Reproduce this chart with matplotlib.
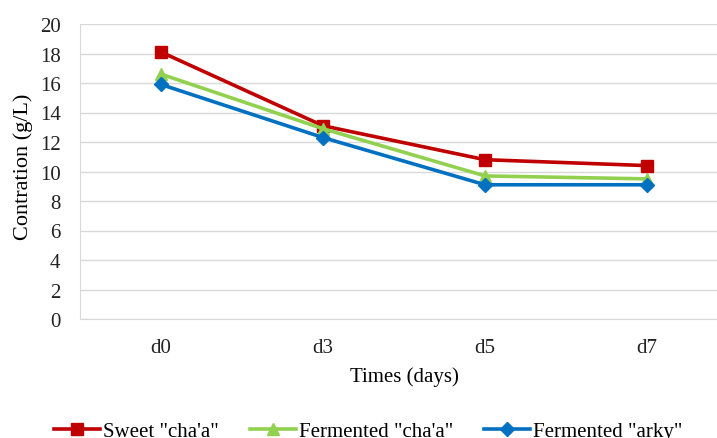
import matplotlib.pyplot as plt

plt.rcParams['font.family'] = ['Liberation Serif', 'DejaVu Serif']

days = ['d0', 'd3', 'd5', 'd7']
sweet_chaa = [18.1, 13.1, 10.8, 10.4]
ferm_chaa = [16.6, 12.9, 9.7, 9.5]
ferm_arky = [15.9, 12.3, 9.1, 9.1]

fs = 15

fig = plt.figure(figsize=(7.17, 4.39), dpi=100)
ax = fig.add_axes([80 / 717, 119 / 439, 648 / 717, 295 / 439])

x = range(len(days))
ax.plot(x, sweet_chaa, color='#C00000', lw=2.6, marker='s', ms=8.5, label='Sweet "cha\'a"')
ax.plot(x, ferm_chaa, color='#92D050', lw=2.6, marker='^', ms=8.5, label='Fermented "cha\'a"')
ax.plot(x, ferm_arky, color='#0070C0', lw=2.6, marker='D', ms=7, label='Fermented "arky"')

ax.set_xlim(-0.5, 3.5)
ax.set_ylim(0, 20)
ax.set_yticks(range(0, 21, 2))
ax.set_xticks(list(x))
ax.set_xticklabels(days)
ax.tick_params(length=0, labelsize=fs, colors='#222222', pad=14)
ax.tick_params(axis='y', pad=14)
ax.grid(axis='y', color='#D9D9D9', lw=1)
ax.set_axisbelow(True)
for s in ['top', 'right']:
    ax.spines[s].set_visible(False)
ax.spines['left'].set_color('#D9D9D9')
ax.spines['bottom'].set_color('#D9D9D9')

ax.set_xlabel('Times (days)', fontsize=fs, labelpad=6)
fig.text(23 / 717, 1 - 167 / 439, 'Contration (g/L)', rotation=90, fontsize=16,
         ha='center', va='center')

fig.legend(loc='center left', bbox_to_anchor=(54 / 717, 1 - 432 / 439), ncol=3,
           frameon=False, fontsize=fs, handlelength=2.2, handletextpad=0.15,
           columnspacing=1.5, borderaxespad=0, borderpad=0)

fig.savefig('out.png', dpi=100)
